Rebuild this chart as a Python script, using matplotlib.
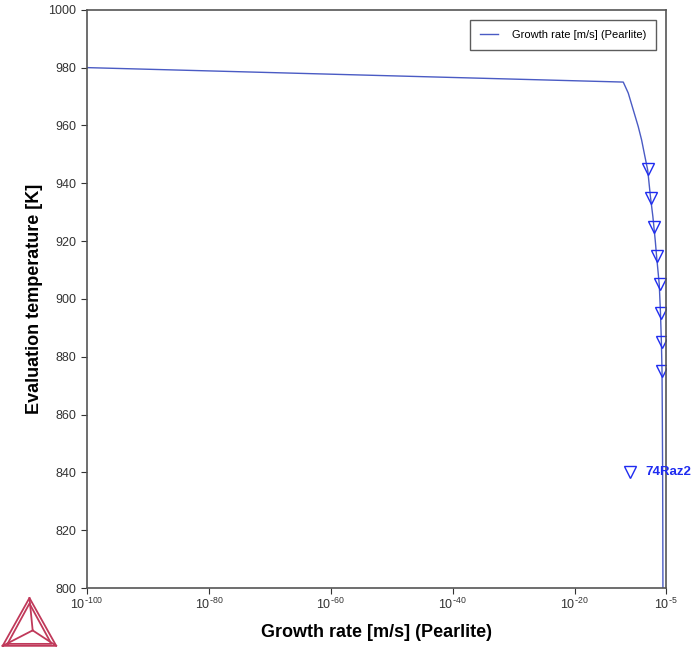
import numpy as np
import matplotlib.pyplot as plt
from matplotlib.ticker import FixedLocator, FuncFormatter, NullLocator

plt.rcParams['font.family'] = ['Liberation Sans', 'DejaVu Sans']

# calculated curve (log10 of growth rate vs temperature)
line_T = [980, 975, 971.2, 965.4, 959.6, 955, 949.2, 944.6, 935.4, 928.5, 920, 915, 905,
          895, 885, 875, 860, 840, 820, 800]
line_logv = [-100, -12.01, -11.19, -10.37, -9.55, -9.0, -8.45, -8.0, -7.55, -7.15, -6.75,
             -6.55, -6.1, -5.9, -5.75, -5.65, -5.6, -5.55, -5.52, -5.5]

# experimental points (74Raz2)
exp_T = [945, 935, 925, 915, 905, 895, 885, 875]
exp_logv = [-8.02, -7.53, -6.94, -6.55, -6.0, -5.89, -5.73, -5.63]

xticks = [-100, -80, -60, -40, -20, -5]
line_col = '#4a5bc4'
mark_col = '#1f2cf0'

fig = plt.figure(figsize=(6.93, 6.52), dpi=100)
ax = fig.add_axes([0.1255, 0.098, 0.8355, 0.887])

ax.plot(10.0 ** np.array(line_logv), line_T, color=line_col, lw=1.0,
        label='Growth rate [m/s] (Pearlite)')
ax.plot(10.0 ** np.array(exp_logv), exp_T, linestyle='none', marker='v',
        markersize=8, markerfacecolor='none', markeredgecolor=mark_col, markeredgewidth=1.0)

# dataset label drawn inside the plot
ax.plot([10.0 ** -10.9], [840], linestyle='none', marker='v', markersize=8,
        markerfacecolor='none', markeredgecolor=mark_col, markeredgewidth=1.0)
ax.text(10.0 ** -8.4, 840, '74Raz2', color=mark_col, fontsize=9.5, fontweight='bold',
        va='center', ha='left', clip_on=False, zorder=5)

ax.set_xscale('log')
ax.set_xlim(1e-100, 1e-5)
ax.set_ylim(800, 1000)
ax.xaxis.set_major_locator(FixedLocator([10.0 ** e for e in xticks]))
ax.xaxis.set_major_formatter(FuncFormatter(
    lambda v, p: r'$\mathregular{10^{\text{-}%d}}$' % round(-np.log10(v))))
ax.xaxis.set_minor_locator(NullLocator())
ax.set_yticks(np.arange(800, 1001, 20))

ax.tick_params(labelsize=9, direction='out', length=4, width=0.8, colors='#333333')
ax.tick_params(axis='x', pad=2)
for s in ax.spines.values():
    s.set_color('#555555')
    s.set_linewidth(1.2)

ax.set_xlabel('Growth rate [m/s] (Pearlite)', fontsize=13, fontweight='bold', labelpad=9)
ax.set_ylabel('Evaluation temperature [K]', fontsize=13, fontweight='bold', labelpad=4)

leg = ax.legend(loc='upper right', fontsize=8, frameon=True, fancybox=False,
                handlelength=1.6, handletextpad=1.3, borderpad=0.9,
                bbox_to_anchor=(0.993, 0.992))
leg.get_frame().set_edgecolor('#333333')
leg.get_frame().set_linewidth(1.0)

# logo in the lower left corner
lax = fig.add_axes([0.0, 0.0, 0.085, 0.09])
lax.set_xlim(-1.1, 1.1)
lax.set_ylim(-0.75, 1.15)
lax.axis('off')
logo_col = '#c0395a'
for k in [1.0, 0.82]:
    base = -0.55 * k - (1 - k) * 0.2
    lax.plot([-k, k, 0, -k], [base, base, k, base], color=logo_col, lw=1.3)
cx, cy = 0.12, -0.05
for vx, vy in [(-1, -0.55), (1, -0.55), (0, 1.0)]:
    lax.plot([cx, vx], [cy, vy], color=logo_col, lw=1.3)

fig.savefig('out.png', dpi=100)
